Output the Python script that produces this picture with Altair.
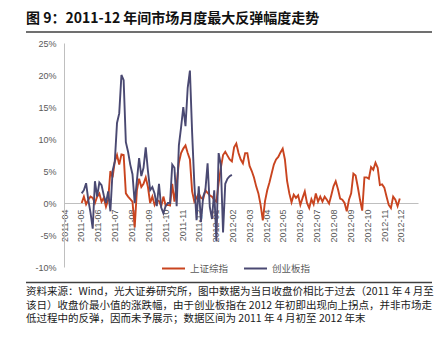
import altair as alt
import pandas as pd

# ---------------- data ----------------
title_text = "图 9：2011-12 年间市场月度最大反弹幅度走势"
footer_text = "\n".join([
    "资料来源：Wind，光大证券研究所，图中数据为当日收盘价相比于过去（2011 年 4 月至",
    "该日）收盘价最小值的涨跌幅，由于创业板指在 2012 年初即出现向上拐点，并非市场走",
    "低过程中的反弹，因而未予展示；数据区间为 2011 年 4 月初至 2012 年末",
])
series_names = ["上证综指", "创业板指"]
series_colors = ["#C9441F", "#4A4972"]
y_ticks = [-10, -5, 0, 5, 10, 15, 20, 25]
x_tick_months = [(2011, m) for m in range(4, 13)] + [(2012, m) for m in range(1, 13)]
start_date = "2011-05-03"
step_days = 4

# 上证综指 (%), every 4 days from start_date
sh_values = [
    0.0, 1.0, -0.2, 0.5, 1.0, 0.8, 0.0, 1.0, 1.5, 0.2,
    0.8, -0.6, 0.5, 5.0, 4.0, 6.5, 7.5, 6.0, 7.6, 7.5,
    1.5, 1.0, 0.6, 0.2, -3.8, 2.0, 3.8, 2.5, 3.0, 4.0,
    2.5, 0.0, 1.0, -0.3, 0.5, 0.3, -0.5, 1.0, -0.4, -0.3,
    -0.4, 3.0, 0.2, 3.0, 6.3, 7.8, 8.5, 9.0, 7.8, 6.8,
    1.8, 0.2, 0.8, 1.5, 0.8, 0.6, 2.0, 1.6, 1.2, 1.0,
    0.5, 0.2, 3.1, 5.5, 7.5, 8.0, 7.4, 6.8, 6.5, 8.7,
    9.3, 7.8, 6.8, 6.2, 7.8, 7.8, 5.8, 5.0, 4.0, 2.6,
    1.5, -0.3, -2.7, 0.3, 2.0, 3.2, 4.6, 6.0, 6.8, 7.2,
    7.9, 8.5, 6.8, 3.4, 1.5, 0.1, 1.3, 0.8, 1.2, -0.3,
    0.8, 1.8, 0.0, -0.8, 0.6, -0.2, 1.5, 0.2, 1.0, 0.2,
    1.0, 0.5, -0.1, 1.2, 2.6, 3.4, 2.2, 0.7, 0.5, 0.0,
    -1.3, 0.5, 1.5, 4.6, 4.3, 2.5, 0.5, -1.2, 4.0, 4.0,
    3.8, 5.6, 5.2, 6.3, 5.5, 2.8, 2.9, 2.4, 1.0, -0.3,
    -0.8, 1.0, 0.5, -0.5, 0.7,
]

# 创业板指 (%), every 4 days from start_date
cy_values = [
    1.5, 2.0, 3.1, 0.5, -1.5, -4.0, 3.4, 1.0, 3.2, 2.8,
    1.2, 0.0, 1.8, -1.3, 5.0, 6.5, 12.5, 14.0, 20.0, 19.2,
    9.5, 8.0, 6.0, 4.5, 0.0, 3.5, 7.0, 4.2, 5.5, 8.7,
    5.0, 2.0, 2.5, 1.5, -0.5, 3.0, -0.7, -1.6, -0.5, 0.0,
    0.0, 6.0, 5.5, -0.5, 9.0, 11.8, 15.0, 12.0, 18.0, 20.7,
    11.0, 3.0, -2.7, 2.6, -3.0, 1.0, 2.0, 6.2, -0.6, -2.5,
    2.0, -6.0, 7.8, 6.0, -4.6, 3.0, 3.8, 4.2, 4.4,
]

# ---------------- layout ----------------
W, H = 354, 224
Y_MIN, Y_MAX = -10, 25
zero_from_top = H * (Y_MAX - 0) / (Y_MAX - Y_MIN)
x_axis_offset = -(H - zero_from_top)

CJK = "Noto Sans CJK SC"
LAT = "Liberation Sans"


def frame(values, name):
    return pd.DataFrame({
        "date": pd.date_range(start_date, periods=len(values), freq=f"{step_days}D"),
        "value": values,
        "series": name,
    })


sh_df = frame(sh_values, series_names[0])
cy_df = frame(cy_values, series_names[1])

x_enc = alt.X(
    "date:T",
    scale=alt.Scale(domain=[alt.DateTime(year=2011, month=4, date=1),
                            alt.DateTime(year=2013, month=1, date=1)]),
    axis=alt.Axis(
        title=None, format="%Y-%m",
        values=[alt.DateTime(year=y, month=m, date=1) for y, m in x_tick_months],
        labelAngle=-90, labelFont=LAT, labelFontSize=9, labelColor="#595959",
        ticks=False, labelPadding=6, offset=x_axis_offset, grid=False,
        domainColor="#BFBFBF", domainWidth=1, labelOverlap=False, labelFlush=False,
    ),
)
y_enc = alt.Y(
    "value:Q",
    scale=alt.Scale(domain=[Y_MIN, Y_MAX], nice=False, zero=False),
    axis=alt.Axis(
        title=None, values=y_ticks, labelExpr="datum.value + '%'",
        labelFont=LAT, labelFontSize=9, labelColor="#595959",
        ticks=False, labelPadding=8, grid=False,
        domainColor="#BFBFBF", domainWidth=1,
    ),
)
legend = alt.Legend(
    orient="none", legendX=97, legendY=213, direction="horizontal", title=None,
    symbolType="stroke", symbolStrokeWidth=2, symbolSize=529,
    labelFont=CJK, labelFontSize=9.5, labelColor="#595959",
    labelOffset=4, columnPadding=11,
)
color_enc = alt.Color(
    "series:N",
    scale=alt.Scale(domain=series_names, range=series_colors),
    legend=legend,
)

red = alt.Chart(sh_df).mark_line(strokeWidth=1.9).encode(x=x_enc, y=y_enc, color=color_enc)
blue = alt.Chart(cy_df).mark_line(strokeWidth=1.9).encode(x=x_enc, y=y_enc, color=color_enc)

one = pd.DataFrame({"t": [title_text]})
title = alt.Chart(one).mark_text(
    font=CJK, fontSize=14, fontWeight="bold", align="left", baseline="middle", color="#111111"
).encode(x=alt.value(-38), y=alt.value(-24.5), text="t:N")
title_rule = alt.Chart(one).mark_rule(color="#404040", strokeWidth=1.3).encode(
    x=alt.value(-38), x2=alt.value(368), y=alt.value(-11))

foot = pd.DataFrame({"t": [footer_text]})
footer = alt.Chart(foot).mark_text(
    font=CJK, fontSize=10.5, align="left", baseline="middle", color="#1a1a1a",
    lineBreak="\n", lineHeight=13.7,
).encode(x=alt.value(-38), y=alt.value(249), text="t:N")
footer_rule = alt.Chart(one).mark_rule(color="#404040", strokeWidth=1.3).encode(
    x=alt.value(-38), x2=alt.value(368), y=alt.value(239.5))

chart = alt.layer(red, blue, title, title_rule, footer_rule, footer).properties(
    width=W, height=H,
    autosize=alt.AutoSizeParams(type="none"),
    padding={"left": 64, "top": 43, "right": 25, "bottom": 73},
    background="white",
).configure_view(stroke=None)

chart.save("out.html", embed_options={"renderer": "svg", "actions": False})
